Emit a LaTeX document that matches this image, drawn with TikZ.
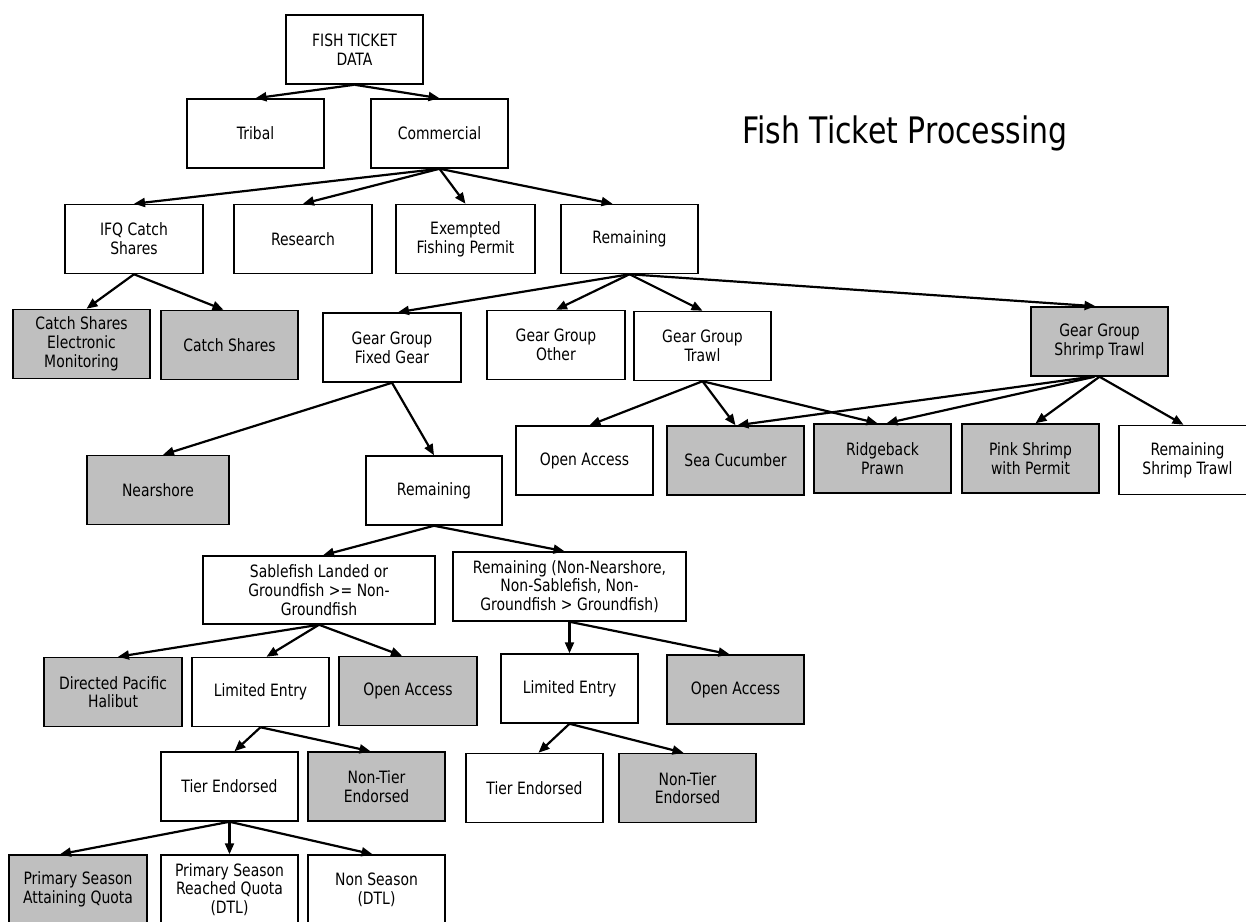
\documentclass[tikz,border=0pt]{standalone}
\usepackage{fontspec}
\setmainfont{DejaVu Sans}[FakeStretch=0.82]
\usetikzlibrary{arrows.meta}
\definecolor{boxgray}{RGB}{191,191,191}
\begin{document}
\begin{tikzpicture}[x=1pt,y=-1pt,
  box/.style={draw=black, line width=1.5pt, fill=white, minimum width=137pt,
    minimum height=69pt, inner sep=0pt, align=center,
    font=\fontsize{17}{18.7}\selectfont},
  gbox/.style={box, fill=boxgray},
  arr/.style={line width=2.2pt, -{Triangle[length=11pt,width=9pt]}}]
\clip (0,0) rectangle (1246,921);
\fill[white] (0,0) rectangle (1246,921);

\node[font=\fontsize{36.5}{36.5}\selectfont, anchor=base] (title) at (905,143) {Fish Ticket Processing};

\node[box] (fish) at (354.5,49.5) {FISH TICKET\\DATA};
\node[box] (tribal) at (255.5,133.5) {Tribal};
\node[box] (comm) at (439.5,133.5) {Commercial};

\node[box, minimum width=138pt] (ifq) at (134,239) {IFQ Catch\\Shares};
\node[box, minimum width=138pt] (research) at (303,239) {Research};
\node[box, minimum width=139pt] (efp) at (465.5,239) {Exempted\\Fishing Permit};
\node[box] (rem1) at (629.5,239) {Remaining};

\node[gbox] (csem) at (81.5,344) {Catch Shares\\Electronic\\Monitoring};
\node[gbox] (cs) at (229.5,345) {Catch Shares};
\node[box, minimum width=138pt] (ggfg) at (392,347.5) {Gear Group\\Fixed Gear};
\node[box, minimum width=138pt] (ggo) at (556,345) {Gear Group\\Other};
\node[box] (ggt) at (702.5,346) {Gear Group\\Trawl};
\node[gbox] (ggst) at (1099.5,341.5) {Gear Group\\Shrimp Trawl};

\node[box] (oa1) at (584.5,460.5) {Open Access};
\node[gbox] (seacuc) at (735.5,460.5) {Sea Cucumber};
\node[gbox] (ridge) at (882.5,458.5) {Ridgeback\\Prawn};
\node[gbox] (pink) at (1030.5,458.5) {Pink Shrimp\\with Permit};
\node[box] (remst) at (1187.5,460) {Remaining\\Shrimp Trawl};

\node[gbox, minimum width=142pt] (near) at (158,490) {Nearshore};
\node[box, minimum width=136pt] (rem2) at (434,490.5) {Remaining};

\node[box, minimum width=232pt, minimum height=68pt] (sable) at (319,590) {Sablefish Landed or\\Groundfish >= Non-\\Groundfish};
\node[box, minimum width=233pt] (remnn) at (569.5,586.5) {Remaining (Non-Nearshore,\\Non-Sablefish, Non-\\Groundfish > Groundfish)};

\node[gbox, minimum width=138pt] (dph) at (113,692) {Directed Pacific\\Halibut};
\node[box] (le1) at (260.5,692) {Limited Entry};
\node[gbox, minimum width=138pt] (oa2) at (408,691) {Open Access};
\node[box] (le2) at (569.5,688.5) {Limited Entry};
\node[gbox] (oa3) at (735.5,689.5) {Open Access};

\node[box] (te1) at (229.5,786.5) {Tier Endorsed};
\node[gbox] (nt1) at (376.5,786.5) {Non-Tier\\Endorsed};
\node[box] (te2) at (534.5,788) {Tier Endorsed};
\node[gbox] (nt2) at (687.5,788) {Non-Tier\\Endorsed};

\node[gbox, minimum width=138pt] (psaq) at (78,889.5) {Primary Season\\Attaining Quota};
\node[box] (psr) at (229.5,889.5) {Primary Season\\Reached Quota\\(DTL)};
\node[box] (ns) at (376.5,889.5) {Non Season\\(DTL)};

% connectors
\draw[arr] (fish.south) -- (tribal.north);
\draw[arr] (fish.south) -- (comm.north);

\draw[arr] (comm.south) -- (ifq.north);
\draw[arr] (comm.south) -- (research.north);
\draw[arr] (comm.south) -- (efp.north);
\draw[arr] (comm.south) -- ([xshift=-17pt]rem1.north);

\draw[arr] (ifq.south) -- ([xshift=5pt]csem.north);
\draw[arr] (ifq.south) -- ([xshift=-6pt]cs.north);

\draw[arr] (rem1.south) -- ([xshift=6pt]ggfg.north);
\draw[arr] (rem1.south) -- (ggo.north);
\draw[arr] (rem1.south) -- (ggt.north);
\draw[arr] (rem1.south) -- ([xshift=-4pt]ggst.north);

\draw[arr] (ggt.south) -- ([xshift=5pt]oa1.north);
\draw[arr] (ggt.south) -- (seacuc.north);
\draw[arr] (ggt.south) -- ([xshift=-5pt]ridge.north);

\draw[arr] ([xshift=-8pt]ggst.south) -- ([xshift=2pt]seacuc.north);
\draw[arr] ([xshift=-5pt]ggst.south) -- ([xshift=4pt]ridge.north);
\draw[arr] (ggst.south) -- ([xshift=5pt]pink.north);
\draw[arr] (ggst.south) -- ([xshift=-4pt]remst.north);

\draw[arr] (ggfg.south) -- ([xshift=5pt]near.north);
\draw[arr] (ggfg.south) -- (rem2.north);

\draw[arr] (rem2.south) -- ([xshift=4pt]sable.north);
\draw[arr] (rem2.south) -- ([xshift=-5pt]remnn.north);

\draw[arr] (sable.south) -- ([xshift=5pt]dph.north);
\draw[arr] (sable.south) -- ([xshift=6pt]le1.north);
\draw[arr] (sable.south) -- ([xshift=-6pt]oa2.north);

\draw[arr] (remnn.south) -- (le2.north);
\draw[arr] (remnn.south) -- ([xshift=-6pt]oa3.north);

\draw[arr] (le1.south) -- ([xshift=5pt]te1.north);
\draw[arr] (le1.south) -- ([xshift=-6pt]nt1.north);
\draw[arr] (le2.south) -- ([xshift=4pt]te2.north);
\draw[arr] (le2.south) -- ([xshift=-4pt]nt2.north);

\draw[arr] (te1.south) -- ([xshift=-18pt]psaq.north);
\draw[arr] (te1.south) -- (psr.north);
\draw[arr] (te1.south) -- ([xshift=-4pt]ns.north);
\end{tikzpicture}
\end{document}
